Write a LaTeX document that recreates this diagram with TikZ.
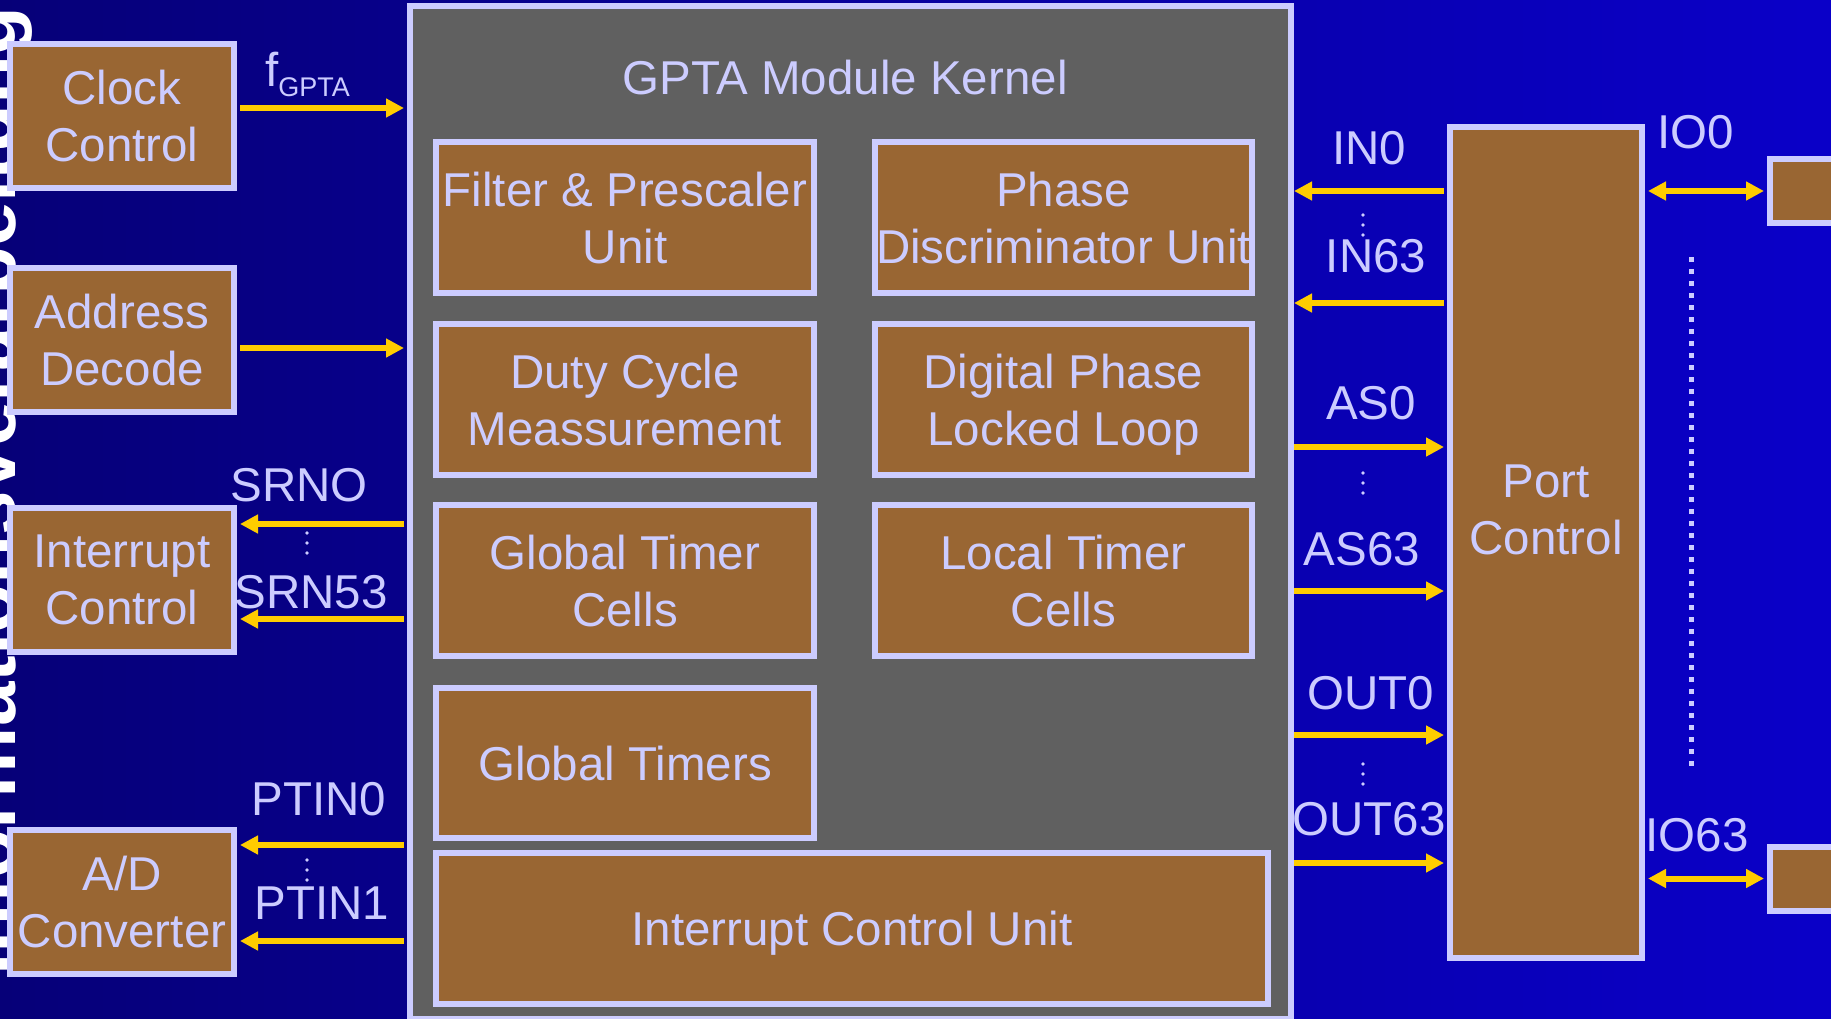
\documentclass[tikz,border=0pt]{standalone}
\usepackage{fontspec}
\setmainfont{Liberation Sans}
\usepackage{tikz}
\usetikzlibrary{arrows.meta,shapes,positioning}
\definecolor{gptabg}{RGB}{6,0,120}
\definecolor{gptabg2}{RGB}{10,0,200}
\definecolor{gptagray}{RGB}{96,96,96}
\definecolor{gptalav}{RGB}{204,204,255}
\definecolor{gptabrown}{RGB}{153,102,51}
\definecolor{gptayellow}{RGB}{255,204,0}
\newcommand{\unitfont}{\fontsize{47.5}{57}\selectfont}
\tikzstyle{gptaunit} = [rectangle, draw=gptalav, fill=gptabrown, line width=6pt, text=gptalav, font=\unitfont, align=center, inner sep=0pt, text depth=-5pt]
\tikzstyle{gptakernel} = [gptaunit, fill=gptagray]
\tikzstyle{sigarrow} = [line width=6pt, color=gptayellow, >={Triangle[length=18pt,width=18pt]}, ->, shorten <=3pt, shorten >=3pt]
\tikzstyle{bisig} = [sigarrow, <->]
\tikzstyle{siglabel} = [text=gptalav, font=\unitfont, inner sep=0pt, text depth=0pt]
\newcommand{\vdts}[2]{\foreach \dy in {-10,0,10} {\fill[gptalav] (#1,#2+\dy) circle (1.8pt);}}

\begin{document}
\begin{tikzpicture}[x=1pt, y=-1pt]
\useasboundingbox (0,0) rectangle (1831,1019);
\clip (0,0) rectangle (1831,1019);
% background
\shade[left color=gptabg, right color=gptabg2] (0,0) rectangle (1831,1019);
\node[rotate=90, anchor=base west, inner sep=0pt, text=white, font=\bfseries\fontsize{80}{80}\selectfont] (title) at (15,976) {Informationsverarbeitung};

% GPTA kernel and its units
\node (kern) [gptakernel, minimum width=881pt, minimum height=1013pt] at (850.5,512.5) {};
\node[siglabel] (ktitle) at (845,77) {GPTA Module Kernel};

\node (filt) [gptaunit, minimum width=378pt, minimum height=151pt] at (625,217.5) {Filter \& Prescaler\\Unit};
\node (pdu) [gptaunit, minimum width=377pt, minimum height=151pt] at (1063.5,217.5) {Phase\\Discriminator Unit};
\node (dcm) [gptaunit, minimum width=378pt, minimum height=151pt] at (625,399.5) {Duty Cycle\\Meassurement};
\node (dpll) [gptaunit, minimum width=377pt, minimum height=151pt] at (1063.5,399.5) {Digital Phase\\Locked Loop};
\node (gtc) [gptaunit, minimum width=378pt, minimum height=151pt] at (625,580.5) {Global Timer\\Cells};
\node (ltc) [gptaunit, minimum width=377pt, minimum height=151pt] at (1063.5,580.5) {Local Timer\\Cells};
\node (gt) [gptaunit, minimum width=378pt, minimum height=150pt] at (625,763) {Global Timers};
\node (icu) [gptaunit, minimum width=832pt, minimum height=151pt] at (852,928.5) {Interrupt Control Unit};

% blocks on the left
\node (clk) [gptaunit, minimum width=224pt, minimum height=144pt] at (122,116) {Clock\\Control};
\node (addr) [gptaunit, minimum width=224pt, minimum height=144pt] at (122,340) {Address\\Decode};
\node (irq) [gptaunit, minimum width=224pt, minimum height=144pt] at (122,580) {Interrupt\\Control};
\node (adc) [gptaunit, minimum width=224pt, minimum height=144pt] at (122,902) {A/D\\Converter};

% port control and pins
\node (port) [gptaunit, minimum width=192pt, minimum height=831pt] at (1546,542.5) {};
\node[siglabel, align=center] (portlbl) at (1546,509.5) {Port\\Control};
\node (io0) [gptaunit, minimum width=120pt, minimum height=64pt] at (1830,191) {};
\node (io63) [gptaunit, minimum width=120pt, minimum height=64pt] at (1830,878.5) {};

% arrows
\draw[sigarrow] (clk.east |- 0,108) -- (kern.west |- 0,108);
\draw[sigarrow] (addr.east |- 0,348) -- (kern.west |- 0,348);
\draw[sigarrow] (kern.west |- 0,524) -- (irq.east |- 0,524);
\draw[sigarrow] (kern.west |- 0,619) -- (irq.east |- 0,619);
\draw[sigarrow] (kern.west |- 0,845) -- (adc.east |- 0,845);
\draw[sigarrow] (kern.west |- 0,941) -- (adc.east |- 0,941);

\draw[sigarrow, shorten >=0pt] (port.west |- 0,191) -- (kern.east |- 0,191);
\draw[sigarrow, shorten >=0pt] (port.west |- 0,303) -- (kern.east |- 0,303);
\draw[sigarrow, shorten <=0pt] (kern.east |- 0,447) -- (port.west |- 0,447);
\draw[sigarrow, shorten <=0pt] (kern.east |- 0,591) -- (port.west |- 0,591);
\draw[sigarrow, shorten <=0pt] (kern.east |- 0,735) -- (port.west |- 0,735);
\draw[sigarrow, shorten <=0pt] (kern.east |- 0,863) -- (port.west |- 0,863);
\draw[bisig] (port.east |- io0.west) -- (io0.west);
\draw[bisig] (port.east |- io63.west) -- (io63.west);
\draw[gptalav, line width=5pt, dash pattern=on 5pt off 7pt] (1691,257) -- (1691,769);

% signal names
\node[siglabel, anchor=base west] (fgpta) at (265,87) {f\raisebox{-10pt}{\fontsize{27}{27}\selectfont GPTA}};
\node[siglabel] (lsrn0) at (299,485) {SRNO};
\node[siglabel] (lsrn53) at (311,592) {SRN53};
\node[siglabel] (lptin0) at (319,799) {PTIN0};
\node[siglabel] (lptin1) at (322,903) {PTIN1};
\node[siglabel] (lin0) at (1369,148) {IN0};
\node[siglabel] (lin63) at (1376,256) {IN63};
\node[siglabel] (las0) at (1371,403) {AS0};
\node[siglabel] (las63) at (1362,549) {AS63};
\node[siglabel] (lout0) at (1371,693) {OUT0};
\node[siglabel] (lout63) at (1369,819) {OUT63};
\node[siglabel] (lio0) at (1696,132) {IO0};
\node[siglabel] (lio63) at (1697,835) {IO63};

% vertical dots
\vdts{307}{543}
\vdts{307}{870}
\vdts{1363}{225}
\vdts{1363}{483}
\vdts{1363}{774}
\end{tikzpicture}
\end{document}
